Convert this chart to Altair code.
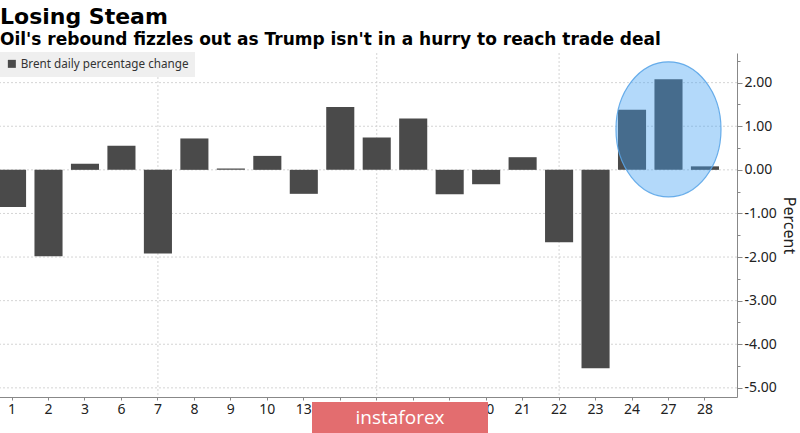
import altair as alt
import pandas as pd

# ---- data ----
days = ["1", "2", "3", "6", "7", "8", "9", "10", "13", "14",
        "15", "16", "17", "20", "21", "22", "23", "24", "27", "28"]
changes = [-0.85, -1.98, 0.14, 0.55, -1.92, 0.72, 0.03, 0.32, -0.55, 1.44,
           0.74, 1.18, -0.56, -0.33, 0.29, -1.66, -4.55, 1.38, 2.08, 0.08]
series_name = "Brent daily percentage change"
y_major = [-5, -4, -3, -2, -1, 0, 1, 2]
y_ticks = [-5, -4.5, -4, -3.5, -3, -2.5, -2, -1.5, -1, -0.5, 0, 0.5, 1, 1.5, 2, 2.5]
week_lines = ["7", "15", "22"]
highlight_day = ["27"]
highlight_value = [0.93]
watermark_text = ["instaforex"]

bars_df = pd.DataFrame({"day": days, "change": changes, "series": [series_name] * len(days)})
grid_df = pd.DataFrame({"change": y_major})
vgrid_df = pd.DataFrame({"day": week_lines})
hl_df = pd.DataFrame({"day": highlight_day, "change": highlight_value})
wm_df = pd.DataFrame({"t": watermark_text})

LABEL_FONT = "Noto Sans"
xscale = alt.Scale(domain=days, range=[-20, 737], paddingInner=0.23, paddingOuter=0.4935)
yscale = alt.Scale(domain=[-5.21, 2.68], nice=False, zero=False)

x_axis = alt.Axis(title=None, labelAngle=0, tickSize=3, domainColor="#888888",
                  tickColor="#888888", labelFont=LABEL_FONT, labelFontSize=14,
                  labelColor="#222222", labelPadding=2, grid=False)
y_axis = alt.Axis(orient="right", values=y_ticks, grid=False,
                  labelExpr="datum.value % 1 === 0 ? replace(format(datum.value, '.2f'), '\u2212', '-') : ''",
                  tickSize={"condition": {"test": "datum.value % 1 !== 0", "value": 3}, "value": 5},
                  domainColor="#888888", tickColor="#888888", labelFont=LABEL_FONT,
                  labelFontSize=14, labelColor="#222222", labelPadding=2,
                  title="Percent", titleFont=LABEL_FONT, titleFontSize=16,
                  titleFontWeight="normal", titleColor="#222222", titlePadding=4)

X = lambda: alt.X("day:N", scale=xscale, sort=days, axis=x_axis)
Y = lambda: alt.Y("change:Q", scale=yscale, axis=y_axis)

hgrid = alt.Chart(grid_df).mark_rule(color="#d4d4d4", strokeDash=[2, 2], strokeWidth=1).encode(
    y=Y())
vgrid = alt.Chart(vgrid_df).mark_rule(color="#d4d4d4", strokeDash=[2, 2], strokeWidth=1).encode(
    x=X())

bars = alt.Chart(bars_df).mark_bar().encode(
    x=X(),
    y=Y(),
    color=alt.Color("series:N",
                    scale=alt.Scale(domain=[series_name], range=["#4a4a4a"]),
                    legend=alt.Legend(orient="none", legendX=0, legendY=-1, title=None,
                                      fillColor="#efefef", padding=6, symbolType="square",
                                      symbolSize=64, symbolStrokeWidth=0, labelLimit=400,
                                      labelOffset=3,
                                      labelFont=LABEL_FONT, labelFontSize=11.7,
                                      labelColor="#333333")),
)

ellipse_path = "M -0.778 0 A 0.778 1 0 1 0 0.778 0 A 0.778 1 0 1 0 -0.778 0 Z"
highlight = alt.Chart(hl_df).mark_point(
    shape=ellipse_path, size=18225, filled=True, fill="#41a0f3", fillOpacity=0.4,
    stroke="#5aa5e8", strokeWidth=1.2, strokeOpacity=0.9, opacity=1).encode(
    x=X(), y=Y())

wm_rect = alt.Chart(wm_df).mark_rect(color="#e36d6f").encode(
    x=alt.value(312), x2=alt.value(488), y=alt.value(349), y2=alt.value(392))
wm_text = alt.Chart(wm_df).mark_text(color="white", font="Open Sans", fontSize=19,
                                     align="center", baseline="alphabetic").encode(
    x=alt.value(400), y=alt.value(371), text="t:N")

chart = alt.layer(hgrid, vgrid, bars, highlight, wm_rect, wm_text).properties(
    width=737, height=344,
    title=alt.TitleParams(
        text="Losing Steam",
        subtitle="Oil's rebound fizzles out as Trump isn't in a hurry to reach trade deal",
        anchor="start", frame="group", font="DejaVu Sans", fontSize=22, fontWeight="bold",
        color="black", subtitleFont="DejaVu Sans", subtitleFontSize=17,
        subtitleFontWeight="bold", subtitleColor="black", subtitlePadding=3, offset=3),
    autosize=alt.AutoSizeParams(type="none"),
    padding={"left": 0, "top": 53, "right": 63, "bottom": 36},
    background="white",
).configure_view(stroke=None)

chart.save("out.html", embed_options={"renderer": "svg", "actions": False})
